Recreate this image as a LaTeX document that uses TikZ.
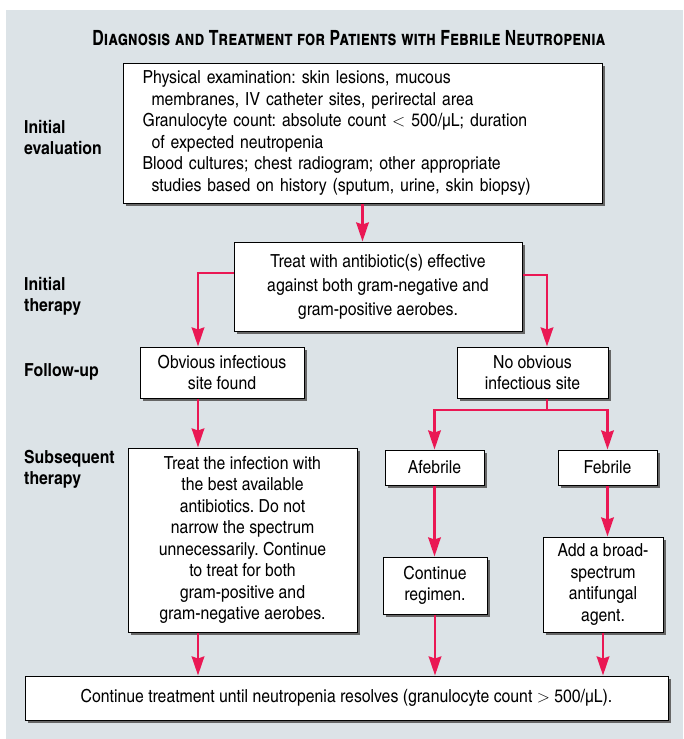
\documentclass[tikz,border=0pt]{standalone}
\usepackage{fontspec}
\setmainfont{texgyreheroscn}[Extension=.otf,UprightFont=*-regular,BoldFont=*-bold,ItalicFont=*-italic,BoldItalicFont=*-bolditalic,FakeStretch=1.07]
\newfontfamily\titlefont{texgyreheroscn}[Extension=.otf,UprightFont=*-regular,BoldFont=*-bold,FakeStretch=0.92]
\usetikzlibrary{arrows.meta,shadows}
\definecolor{panelgray}{RGB}{220,227,231}
\definecolor{flowred}{RGB}{234,24,84}
\frenchspacing

\begin{document}
\begin{tikzpicture}[x=1pt,y=-1pt,
    box/.style={draw,line width=1pt,fill=white,align=center,inner sep=0pt,
        drop shadow={shadow xshift=3pt,shadow yshift=-3pt,fill=black!60,opacity=1},
        font=\fontsize{18}{21.5}\selectfont},
    stage/.style={anchor=west,align=left,inner sep=0pt,font=\bfseries\fontsize{18}{21}\selectfont},
    link/.style={draw=flowred,line width=2.7pt},
    flow/.style={link,-{Stealth[length=19pt,width=12.5pt,inset=2pt]}}]
    \useasboundingbox(0,0)rectangle(683,739);
    \fill[panelgray](6,10)rectangle(683,739);
    \node[font=\titlefont\bfseries\scshape\fontsize{21}{24}\selectfont](title)at(349,38){Diagnosis and Treatment for Patients with Febrile Neutropenia};

    % stages down the left side
    \node[stage](sEval)at(24,137.5){Initial\\evaluation};
    \node[stage](sInit)at(24,296){Initial\\therapy};
    \node[stage](sFoll)at(24,372){Follow-up};
    \node[stage](sSubs)at(24,469){Subsequent\\therapy};

    \node[box,minimum width=479pt,minimum height=140pt,text width=440pt,align=left](eval)at(362.5,133){%
        Physical examination: skin lesions, mucous\\
        \hspace*{9pt}membranes, IV catheter sites, perirectal area\\
        Granulocyte count: absolute count $<$ 500/µL; duration\\
        \hspace*{9pt}of expected neutropenia\\
        Blood cultures; chest radiogram; other appropriate\\
        \hspace*{9pt}studies based on history (sputum, urine, skin biopsy)};
    \node[box,minimum width=288pt,minimum height=89pt,font=\fontsize{18}{24}\selectfont](antib)at(378,286.5){Treat with antibiotic(s) effective\\against both gram-negative and\\gram-positive aerobes.};
    \node[box,minimum width=164pt,minimum height=51pt](obvious)at(222,372.5){Obvious infectious\\site found};
    \node[box,minimum width=151pt,minimum height=51pt](noobv)at(532.5,372.5){No obvious\\infectious site};
    \node[box,minimum width=229pt,minimum height=184pt](treatinf)at(242.5,540){Treat the infection with\\the best available\\antibiotics. Do not\\narrow the spectrum\\unnecessarily. Continue\\to treat for both\\gram-positive and\\gram-negative aerobes.};
    \node[box,minimum width=99pt,minimum height=35pt](afeb)at(434.5,467.5){Afebrile};
    \node[box,minimum width=99pt,minimum height=35pt](feb)at(607.5,467.5){Febrile};
    \node[box,minimum width=104pt,minimum height=57pt](regimen)at(435,585.5){Continue\\regimen.};
    \node[box,minimum width=120pt,minimum height=95pt](broad)at(603,584.5){Add a broad-\\spectrum\\antifungal\\agent.};
    \node[box,minimum width=643pt,minimum height=44pt](final)at(346.5,698){Continue treatment until neutropenia resolves (granulocyte count $>$ 500/µL).};

    % branch points
    \coordinate(lft)at(198,273);
    \coordinate(rgt)at(547,275);
    \coordinate(split)at(547,410);

    \draw[flow](eval.south)--(eval.south|-antib.north);
    \draw[flow](antib.west|-lft)-|(obvious.north-|lft);
    \draw[flow](antib.east|-rgt)-|(noobv.north-|rgt);
    \draw[flow](obvious.south-|lft)--(treatinf.north-|lft);
    \draw[link](noobv.south-|split)--(split);
    \draw[flow](split)-|(afeb.north);
    \draw[flow](split)-|(feb.north);
    \draw[flow](afeb.south)--(afeb.south|-regimen.north);
    \draw[flow](feb.south)--(feb.south|-broad.north);
    \draw[flow](treatinf.south-|lft)--(final.north-|lft);
    \draw[flow](regimen.south)--(regimen.south|-final.north);
    \draw[flow](broad.south)--(broad.south|-final.north);
\end{tikzpicture}
\end{document}
